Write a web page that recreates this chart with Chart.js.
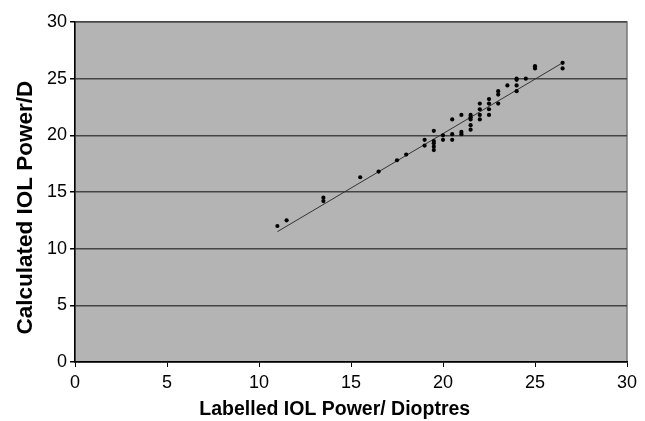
<!DOCTYPE html>
<html lang="en">
<head>
<meta charset="UTF-8">
<title>IOL Power</title>
<script src="https://cdn.jsdelivr.net/npm/chart.js"></script>
<style>
  html, body { margin: 0; padding: 0; background: #fff; }
  #wrap { width: 645px; height: 421px; }
</style>
</head>
<body>
<div id="wrap"><canvas id="grafica"></canvas></div>
<script>
// labelled power (x) and calculated power (y)
const labelled = [
  11, 11.5, 13.5, 13.5, 15.5, 16.5, 17.5, 18,
  19, 19, 19.5, 19.5, 19.5, 19.5, 19.5,
  20, 20, 20.5, 20.5, 20.5, 21, 21, 21,
  21.5, 21.5, 21.5, 21.5, 21.5,
  22, 22, 22, 22, 22.5, 22.5, 22.5, 22.5,
  23, 23, 23, 23.5, 24, 24, 24, 24, 24.5,
  25, 25, 26.5, 26.5
];
const calculated = [
  12.0, 12.5, 14.5, 14.2, 16.3, 16.8, 17.8, 18.3,
  19.6, 19.1, 20.4, 19.5, 19.3, 19.0, 18.7,
  20.0, 19.6, 21.4, 20.1, 19.6, 21.8, 20.3, 20.1,
  21.8, 21.6, 21.4, 20.9, 20.5,
  22.8, 22.3, 21.8, 21.4, 23.2, 22.8, 22.3, 21.8,
  23.9, 23.6, 22.8, 24.4, 25.0, 24.9, 24.4, 23.9, 25.0,
  26.1, 25.9, 26.4, 25.9
];
// fitted line end points
const trendX = [11, 26.5];
const trendY = [11.5, 26.4];
const ticksX = [0, 5, 10, 15, 20, 25, 30];

const puntos = labelled.map((x, i) => ({ x: x, y: calculated[i] }));
const linea = trendX.map((x, i) => ({ x: x, y: trendY[i] }));

const fondo = {
  id: 'fondo',
  beforeDraw(chart) {
    const a = chart.chartArea, ctx = chart.ctx;
    ctx.save();
    ctx.fillStyle = '#b4b4b4';
    ctx.fillRect(a.left, a.top, a.right - a.left, a.bottom - a.top);
    ctx.strokeStyle = '#777';
    ctx.lineWidth = 1.5;
    ctx.strokeRect(a.left, a.top, a.right - a.left, a.bottom - a.top);
    ctx.restore();
  }
};

const fuente = { family: 'Liberation Sans, Arial, sans-serif', size: 18 };

new Chart(document.getElementById('grafica'), {
  type: 'scatter',
  data: {
    datasets: [
      {
        label: 'Lenses',
        data: puntos,
        backgroundColor: '#000',
        borderWidth: 0,
        pointRadius: 2.1,
        pointHoverRadius: 2.1
      },
      {
        type: 'line',
        label: 'Fit',
        data: linea,
        borderColor: '#333',
        borderWidth: 1,
        pointRadius: 0,
        fill: false
      }
    ]
  },
  options: {
    responsive: true,
    maintainAspectRatio: false,
    animation: false,
    layout: { padding: { top: 22, right: 18, left: 0, bottom: 0 } },
    plugins: {
      legend: { display: false },
      tooltip: { enabled: false }
    },
    scales: {
      x: {
        type: 'linear',
        min: 0, max: 30,
        afterBuildTicks(s) { s.ticks = ticksX.map(v => ({ value: v })); },
        afterFit(s) { s.height = 59; },
        grid: { drawOnChartArea: false, tickLength: 5, tickColor: '#000' },
        border: { color: '#000', width: 1.5 },
        ticks: { color: '#000', font: fuente, padding: 5, maxRotation: 0 },
        title: {
          display: true,
          text: 'Labelled IOL Power/ Dioptres      ',
          color: '#000',
          font: { family: 'Liberation Sans, Arial, sans-serif', size: 19.5, weight: 'bold' },
          padding: { top: 4, bottom: 0 }
        }
      },
      y: {
        min: 0, max: 30,
        afterFit(s) { s.width = 75; },
        grid: { color: '#444', lineWidth: 1.5, tickLength: 5, tickColor: '#000' },
        border: { color: '#000', width: 1.5 },
        ticks: { stepSize: 5, color: '#000', font: fuente, padding: 3 },
        title: {
          display: true,
          text: 'Calculated IOL Power/D     ',
          color: '#000',
          font: { family: 'Liberation Sans, Arial, sans-serif', size: 22.5, weight: 'bold' },
          padding: { top: 12, bottom: 4 }
        }
      }
    }
  },
  plugins: [fondo]
});
</script>
</body>
</html>
